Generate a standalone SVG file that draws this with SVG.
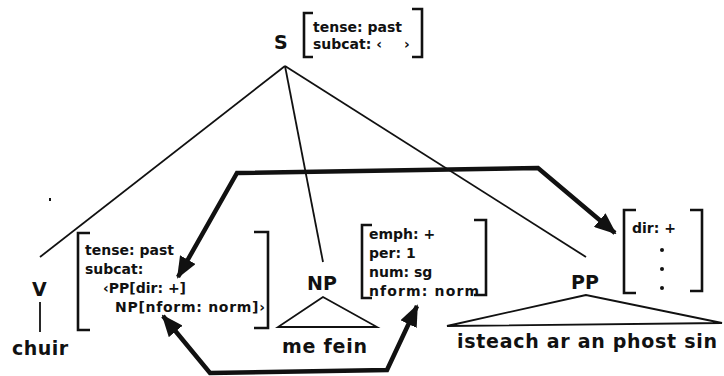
<svg xmlns="http://www.w3.org/2000/svg" width="724" height="376" viewBox="0 0 724 376">
<defs>
<style>
.lbl{font-family:"DejaVu Sans","Liberation Sans",sans-serif;font-size:19px;font-weight:bold;fill:#111}
.ft{font-family:"DejaVu Sans","Liberation Sans",sans-serif;font-size:14px;font-weight:bold;fill:#111}
.thin{fill:none;stroke:#111;stroke-width:1.8}
.br{fill:none;stroke:#111;stroke-width:2.6}
.thick{fill:none;stroke:#111;stroke-width:4.5;stroke-linejoin:miter}
</style>
<marker id="ah" markerUnits="userSpaceOnUse" markerWidth="22" markerHeight="18" refX="20" refY="9" orient="auto-start-reverse" viewBox="0 0 22 18">
<path d="M0,0 L22,9 L0,18 Z" fill="#111"/>
</marker>
</defs>
<rect width="724" height="376" fill="#fff"/>
<g id="S">
<text class="lbl" x="274" y="49">S</text>
<path class="br" d="M313,13 H304 V57 H313"/>
<path class="br" d="M412,9 H422 V57 H412"/>
<text class="ft" x="313" y="32">tense: past</text>
<text class="ft" x="313" y="49">subcat: ‹<tspan x="404">›</tspan></text>
</g>
<g id="V">
<text class="lbl" x="32" y="296">V</text>
<line class="thin" x1="40" y1="302" x2="40" y2="332"/>
<text class="lbl" x="12" y="355" textLength="56">chuir</text>
<path class="br" d="M90,233 H78 V330 H90"/>
<path class="br" d="M254,232 H268 V328 H254"/>
<text class="ft" x="85" y="255">tense: past</text>
<text class="ft" x="85" y="274">subcat:</text>
<text class="ft" x="103" y="293">‹PP[dir: +]</text>
<text class="ft" x="115" y="312" textLength="150">NP[nform: norm]›</text>
</g>
<g id="NP">
<text class="lbl" x="307" y="290">NP</text>
<path class="thin" d="M323,297 L278,327 H377 Z"/>
<text class="lbl" x="282" y="353" textLength="85">me fein</text>
<path class="br" d="M372,225 H362 V298 H372"/>
<path class="br" d="M474,220 H486 V295 H474"/>
<text class="ft" x="369" y="239">emph: +</text>
<text class="ft" x="369" y="258">per: 1</text>
<text class="ft" x="369" y="277">num: sg</text>
<text class="ft" x="369" y="296" textLength="110">nform: norm</text>
</g>
<g id="PP">
<text class="lbl" x="571" y="289">PP</text>
<path class="thin" d="M586,295 L447,326 L722,323 Z"/>
<text class="lbl" x="457" y="348" textLength="260">isteach ar an phost sin</text>
<path class="br" d="M636,210 H624 V293 H636"/>
<path class="br" d="M690,210 H702 V291 H690"/>
<text class="ft" x="632" y="233">dir: +</text>
<circle cx="662" cy="250" r="2" fill="#111"/>
<circle cx="662" cy="269" r="2" fill="#111"/>
<circle cx="662" cy="288" r="2" fill="#111"/>
</g>
<g id="connectors">
<line class="thin" x1="285" y1="66" x2="40" y2="257"/>
<line class="thin" x1="285" y1="66" x2="323" y2="262"/>
<line class="thin" x1="285" y1="66" x2="586" y2="257"/>
<path class="thick" d="M178,277 L237,173 L538,168 L615,233" marker-start="url(#ah)" marker-end="url(#ah)"/>
<path class="thick" d="M163,316 L210,373 L387,370 L417,306" marker-start="url(#ah)" marker-end="url(#ah)"/>
</g>
<rect x="49" y="198" width="2" height="3" fill="#111"/>
</svg>
